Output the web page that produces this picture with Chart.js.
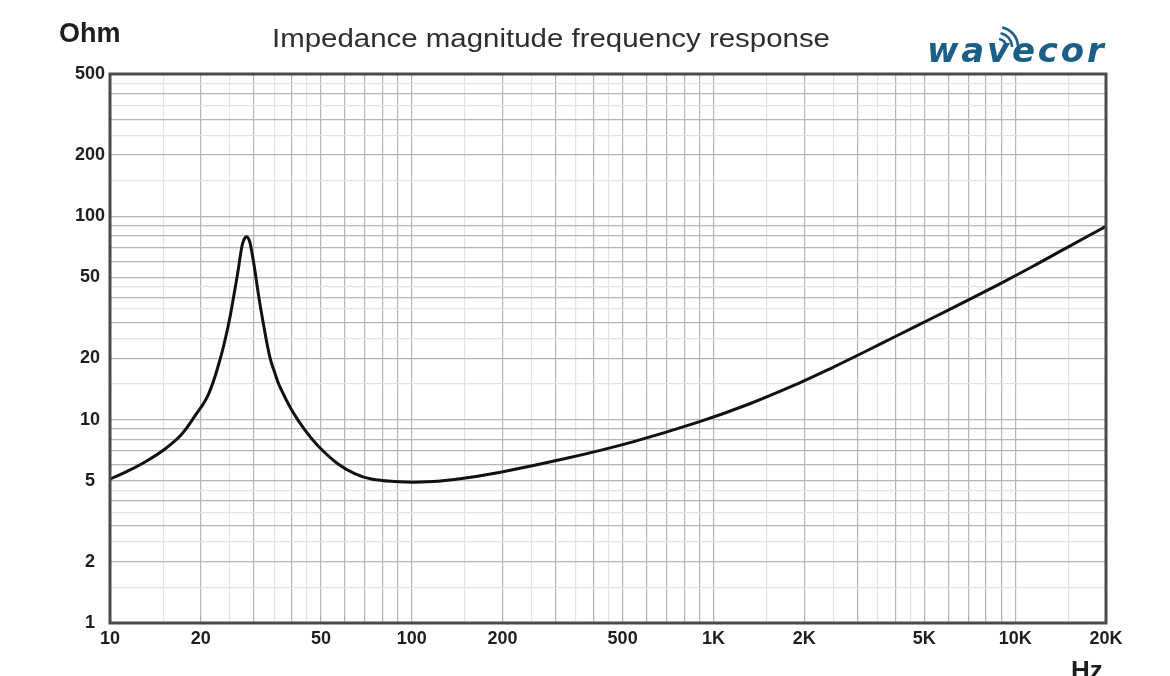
<!DOCTYPE html>
<html>
<head>
<meta charset="utf-8">
<script src="https://cdn.jsdelivr.net/npm/chart.js@4"></script>
<style>
  html, body { margin: 0; padding: 0; background: #fff; }
  #wrap { position: relative; width: 1170px; height: 676px; overflow: hidden; }
  #wrap canvas { position: absolute; left: 0; top: 0; }
  .lbl { position: absolute; white-space: nowrap; line-height: 1; font-family: "Liberation Sans", Arimo, Arial, sans-serif; }
  #ohm { left: 59px; top: 20px; font-size: 27px; font-weight: bold; color: #1e1e1e; }
  #title { left: 272px; top: 25px; font-size: 26px; color: #2e2e2e; transform-origin: 0 0; }
  #hz { left: 1071px; top: 657px; font-size: 26px; font-weight: bold; color: #1e1e1e; }
  #logo { left: 927px; top: 33px; font-family: "DejaVu Sans", sans-serif; font-size: 34px; font-weight: bold; font-style: italic; color: #1b5f86; letter-spacing: 2.8px; }
  #waves { position: absolute; left: 986px; top: 17px; }
</style>
</head>
<body>
<div id="wrap">
  <canvas id="c"></canvas>
  <div class="lbl" id="ohm">Ohm</div>
  <div class="lbl" id="title">Impedance magnitude frequency response</div>
  <div class="lbl" id="hz">Hz</div>
  <div class="lbl" id="logo">wavecor</div>
  <svg id="waves" width="45" height="40" viewBox="0 0 45 40">
    <g fill="none" stroke="#1b5f86" stroke-width="2.6" stroke-linecap="round">
      <path d="M14.1 22.3 A8 8 0 0 1 20 29.3"/>
      <path d="M15.6 16.5 A14 14 0 0 1 26 28.8"/>
      <path d="M17.2 10.7 A20 20 0 0 1 31.9 28.3"/>
    </g>
  </svg>
</div>
<script>
// ---- data ----
const freqHz = [10, 11.21, 13.06, 15.21, 17.31, 19.12, 21.16, 23.13, 24.64, 25.61, 26.6, 27.3, 27.77, 28.36, 28.9, 29.3, 30.2, 31.14, 32.19, 33.87, 35.18, 36.55, 40, 44.23, 48.95, 57, 64.7, 73.5, 87.8, 107.6, 138.7, 195, 326, 537, 890, 1313, 1900, 2500, 3200, 4100, 5300, 6900, 8900, 11500, 14800, 20000];
const impedanceOhm = [5.1, 5.5, 6.19, 7.17, 8.5, 10.42, 13.24, 19.63, 28.86, 39.16, 54.4, 69.8, 76.4, 79.3, 76.4, 70.8, 54.4, 40, 29.95, 20.3, 16.95, 14.51, 11.15, 8.89, 7.42, 6.05, 5.43, 5.1, 4.96, 4.93, 5.08, 5.5, 6.45, 7.75, 9.71, 11.93, 15, 18.12, 21.67, 26.06, 31.5, 38.3, 46.5, 56.9, 69.9, 89.2];

const xTickValues = [10, 20, 50, 100, 200, 500, 1000, 2000, 5000, 10000, 20000];
const xTickLabels = ['10', '20', '50', '100', '200', '500', '1K', '2K', '5K', '10K', '20K'];
const yTickValues = [1, 2, 5, 10, 20, 50, 100, 200, 500];
const yTickLabels = ['1', '2', '5', '10', '20', '50', '100', '200', '500'];

const gridMantissa = [1, 1.5, 2, 2.5, 3, 3.5, 4, 4.5, 5, 6, 7, 8, 9];
const lightMantissa = [1.5, 2.5, 3.5, 4.5];

// stretch the title to the width it has in the reference
(function () {
  const t = document.getElementById('title');
  const w = t.getBoundingClientRect().width;
  if (w > 0) t.style.transform = 'scaleX(' + (558 / w) + ')';
})();

function gridValues(min, max) {
  const out = [];
  for (let e = Math.floor(Math.log10(min)); e <= Math.ceil(Math.log10(max)); e++) {
    for (const m of gridMantissa) {
      const v = +(m * Math.pow(10, e)).toPrecision(6);
      if (v >= min - 1e-9 && v <= max + 1e-9) out.push(v);
    }
  }
  return out;
}
function isLight(v) {
  const e = Math.floor(Math.log10(v) + 1e-9);
  const m = +(v / Math.pow(10, e)).toPrecision(4);
  return lightMantissa.includes(m);
}
function labelFor(values, labels, v) {
  const i = values.findIndex(t => Math.abs(t - v) / t < 1e-6);
  return i >= 0 ? labels[i] : '';
}
const gridColor = (ctx) => (ctx.tick && isLight(ctx.tick.value)) ? '#e3e3e3' : '#b5b5b5';

const framePlugin = {
  id: 'frame',
  afterDatasetsDraw(chart) {
    const a = chart.chartArea, g = chart.ctx;
    g.save();
    g.strokeStyle = '#4a4a4a';
    g.lineWidth = 3;
    g.strokeRect(a.left, a.top, a.right - a.left, a.bottom - a.top);
    g.restore();
  }
};

new Chart(document.getElementById('c'), {
  type: 'line',
  data: {
    datasets: [{
      data: freqHz.map((f, i) => ({ x: f, y: impedanceOhm[i] })),
      borderColor: '#111',
      borderWidth: 3,
      pointRadius: 0,
      tension: 0.4,
      cubicInterpolationMode: 'default',
      fill: false
    }]
  },
  options: {
    responsive: true,
    maintainAspectRatio: false,
    animation: false,
    events: [],
    layout: { padding: { left: 0, top: 74, right: 64, bottom: 0 } },
    plugins: { legend: { display: false }, tooltip: { enabled: false }, title: { display: false } },
    scales: {
      x: {
        type: 'logarithmic',
        min: 10, max: 20000,
        afterBuildTicks: (s) => { s.ticks = gridValues(10, 20000).map(v => ({ value: v })); },
        afterFit: (s) => { s.height = 53; },
        grid: { color: gridColor, lineWidth: 1.2, drawTicks: false },
        border: { display: false },
        ticks: {
          autoSkip: false, maxRotation: 0, padding: 5, color: '#1e1e1e',
          font: { family: '"Liberation Sans", Arimo, Arial, sans-serif', size: 18, weight: 'bold' },
          callback: (v) => labelFor(xTickValues, xTickLabels, v)
        }
      },
      y: {
        type: 'logarithmic',
        min: 1, max: 500,
        afterBuildTicks: (s) => { s.ticks = gridValues(1, 500).map(v => ({ value: v })); },
        afterFit: (s) => { s.width = 110; },
        grid: { color: gridColor, lineWidth: 1.2, drawTicks: false },
        border: { display: false },
        ticks: {
          autoSkip: false, padding: 5, crossAlign: 'center', color: '#1e1e1e',
          font: { family: '"Liberation Sans", Arimo, Arial, sans-serif', size: 18, weight: 'bold' },
          callback: (v) => labelFor(yTickValues, yTickLabels, v)
        }
      }
    }
  },
  plugins: [framePlugin]
});
</script>
</body>
</html>
